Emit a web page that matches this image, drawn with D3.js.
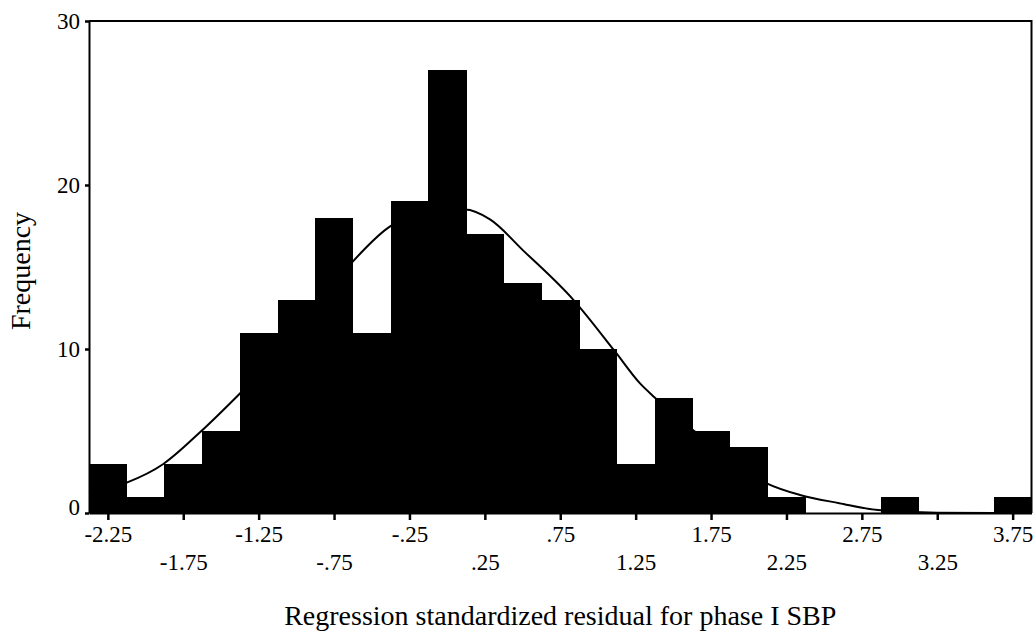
<!DOCTYPE html>
<html>
<head>
    <meta charset="UTF-8">
    <title>Residual histogram</title>
    <script src="https://d3js.org/d3.v7.min.js"></script>
    <style>
        body { margin: 0; background: #fff; }
        svg text { font-family: "Liberation Serif", "Times New Roman", serif; fill: #000; }
    </style>
</head>
<body>
    <svg id="chart" width="1033" height="634"></svg>
    <script>
        // bin midpoints (bin width .25) and counts
        const binCenters = [-2.25, -2.0, -1.75, -1.5, -1.25, -1.0, -0.75, -0.5, -0.25, 0.0, 0.25, 0.5, 0.75,
                            1.0, 1.25, 1.5, 1.75, 2.0, 2.25, 2.5, 2.75, 3.0, 3.25, 3.5, 3.75];
        const counts = [3, 1, 3, 5, 11, 13, 18, 11, 19, 27, 17, 14, 13,
                        10, 3, 7, 5, 4, 1, 0, 0, 1, 0, 0, 1];
        const binWidth = 0.25;

        // normal curve, points
        const curveX = [-2.375, -2.125, -1.882, -1.639, -1.389, -1.0, -0.629, -0.39, -0.15, 0.118, 0.284,
                        0.505, 0.837, 1.113, 1.279, 1.378, 1.75, 2.119, 2.34, 2.6, 2.857, 3.25, 3.875];
        const curveY = [1.2, 1.85, 2.99, 4.92, 7.15, 10.9, 15.3, 17.4, 18.4, 18.5, 17.9,
                        16.0, 13.0, 9.85, 7.9, 7.03, 4.2, 1.81, 1.1, 0.6, 0.18, 0.02, 0];

        const xTicks = [-2.25, -1.75, -1.25, -0.75, -0.25, 0.25, 0.75, 1.25, 1.75, 2.25, 2.75, 3.25, 3.75];
        const xTickLabels = ["-2.25", "-1.75", "-1.25", "-.75", "-.25", ".25", ".75", "1.25", "1.75", "2.25", "2.75", "3.25", "3.75"];
        const yTicks = [0, 10, 20, 30];

        const svg = d3.select('#chart');
        const plotLeft = 89, plotRight = 1031.5, plotTop = 21, plotBottom = 513;

        const x = d3.scaleLinear().domain([-2.375, 3.875]).range([plotLeft, plotRight]);
        const y = d3.scaleLinear().domain([0, 30]).range([plotBottom, plotTop]);

        // bars
        const bins = binCenters.map((c, i) => ({ c: c, v: counts[i] })).filter(d => d.v > 0);
        svg.append('g').attr('shape-rendering', 'crispEdges')
            .selectAll('rect').data(bins).join('rect')
            .attr('x', d => x(d.c - binWidth / 2))
            .attr('width', d => x(d.c + binWidth / 2) - x(d.c - binWidth / 2) + 0.5)
            .attr('y', d => y(d.v))
            .attr('height', d => y(0) - y(d.v))
            .attr('fill', '#000');

        // curve
        const line = d3.line()
            .x(d => x(d[0]))
            .y(d => y(d[1]))
            .curve(d3.curveMonotoneX);
        svg.append('path')
            .datum(curveX.map((v, i) => [v, curveY[i]]))
            .attr('d', line)
            .attr('fill', 'none')
            .attr('stroke', '#000')
            .attr('stroke-width', 2);

        // frame top + right
        svg.append('path')
            .attr('d', `M${plotLeft},${plotTop}H${plotRight}V${plotBottom}`)
            .attr('fill', 'none')
            .attr('stroke', '#000')
            .attr('stroke-width', 2);

        // x axis
        const xAxis = svg.append('g')
            .attr('transform', `translate(0,${plotBottom})`)
            .call(d3.axisBottom(x).tickValues(xTicks).tickSize(7).tickSizeOuter(0)
                .tickFormat((d, i) => xTickLabels[i]));
        xAxis.select('.domain').attr('stroke-width', 2);
        xAxis.selectAll('.tick line').attr('stroke-width', 2.5);
        xAxis.selectAll('.tick text')
            .attr('font-size', 23)
            .attr('font-family', null)
            .attr('dy', null)
            .attr('y', (d, i) => i % 2 === 0 ? 29 : 57);

        // y axis
        const yAxis = svg.append('g')
            .attr('transform', `translate(${plotLeft},0)`)
            .call(d3.axisLeft(y).tickValues(yTicks).tickSize(4).tickSizeOuter(0));
        yAxis.select('.domain').attr('stroke-width', 2);
        yAxis.selectAll('.tick line').attr('stroke-width', 2.5);
        yAxis.selectAll('.tick text')
            .attr('font-size', 23)
            .attr('font-family', null)
            .attr('x', -9)
            .attr('dy', d => d === 0 ? '0.05em' : '0.32em');

        // axis titles
        svg.append('text')
            .attr('x', (plotLeft + plotRight) / 2)
            .attr('y', 625)
            .attr('text-anchor', 'middle')
            .attr('font-size', 28)
            .text('Regression standardized residual for phase I SBP');

        svg.append('text')
            .attr('transform', 'translate(30,271) rotate(-90)')
            .attr('text-anchor', 'middle')
            .attr('font-size', 28)
            .text('Frequency');
    </script>
</body>
</html>
